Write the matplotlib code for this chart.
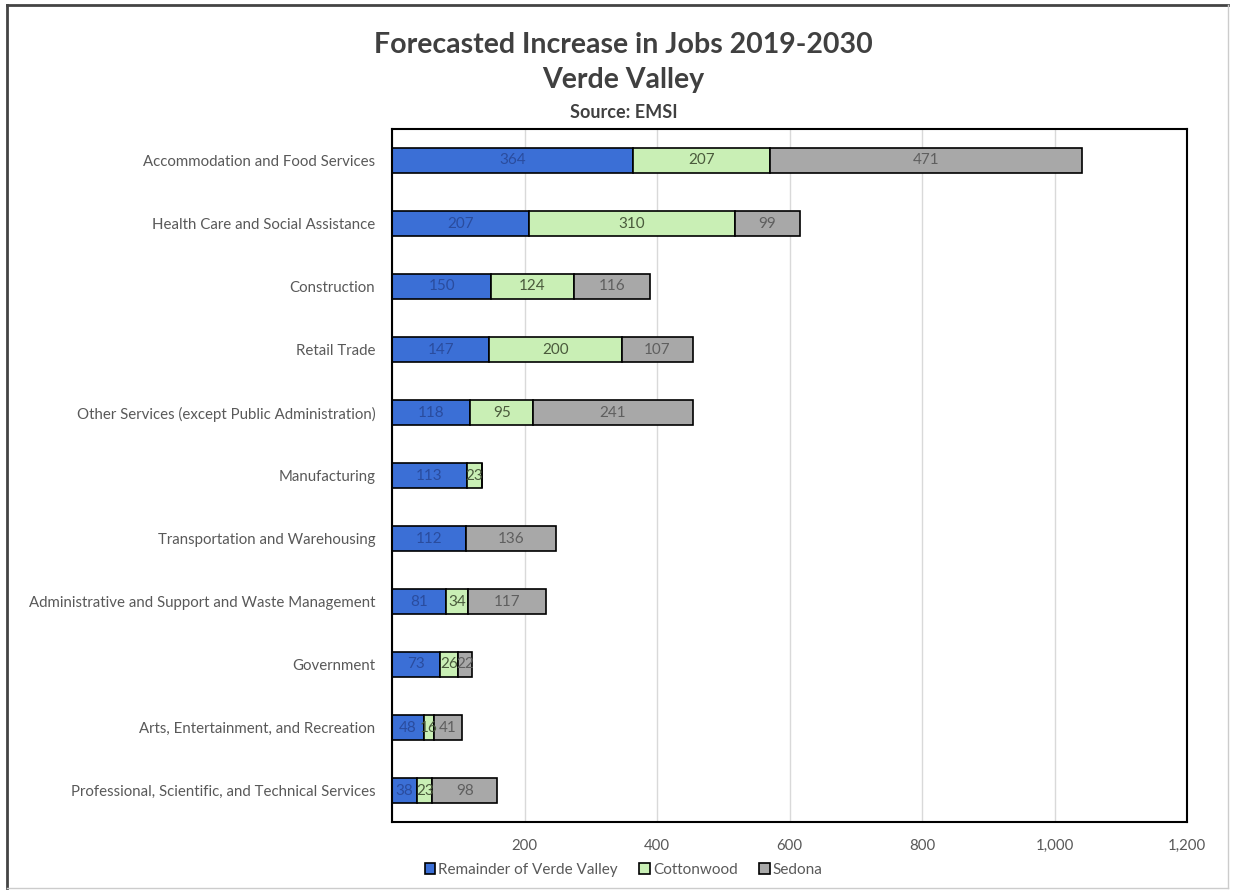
import matplotlib.pyplot as plt
from matplotlib.lines import Line2D

# Forecasted job increase by industry, 2019-2030
industries = [
    'Accommodation and Food Services',
    'Health Care and Social Assistance',
    'Construction',
    'Retail Trade',
    'Other Services (except Public Administration)',
    'Manufacturing',
    'Transportation and Warehousing',
    'Administrative and Support and Waste Management',
    'Government',
    'Arts, Entertainment, and Recreation',
    'Professional, Scientific, and Technical Services',
]
remainder = [364, 207, 150, 147, 118, 113, 112, 81, 73, 48, 38]
cottonwood = [207, 310, 124, 200, 95, 23, 0, 34, 26, 16, 23]
sedona = [471, 99, 116, 107, 241, 0, 136, 117, 22, 41, 98]

series_names = ['Remainder of Verde Valley', 'Cottonwood', 'Sedona']
colors = ['#3b6fd6', '#c9efb5', '#a8a8a8']
label_colors = ['#2a4c9e', '#4a5a3c', '#5f5f5f']

plt.rcParams['font.family'] = ['Lato', 'DejaVu Sans']

fig = plt.figure(figsize=(12.35, 8.96), dpi=100)
ax = fig.add_axes([392 / 1235, 1 - 822 / 896, (1187 - 392) / 1235, (822 - 129) / 896])

y = list(range(len(industries)))
left = [0] * len(industries)
for vals, name, col, lcol in zip([remainder, cottonwood, sedona], series_names, colors, label_colors):
    bars = ax.barh(y, vals, left=left, height=0.4, color=col, edgecolor='black',
                   linewidth=1.2, label=name)
    ax.bar_label(bars, labels=[str(v) if v > 0 else '' for v in vals],
                 label_type='center', color=lcol, fontsize=11)
    left = [a + b for a, b in zip(left, vals)]

ax.set_xlim(0, 1200)
ax.set_ylim(len(industries) - 0.5, -0.5)
ax.set_yticks(y)
ax.set_yticklabels(industries, fontsize=10.8, color='#595959')
ax.set_xticks([0, 200, 400, 600, 800, 1000, 1200])
ax.set_xticklabels(['', '200', '400', '600', '800', '1,000', '1,200'], fontsize=10.8, color='#595959')
ax.tick_params(length=0, pad=12)
ax.tick_params(axis='y', pad=12)
ax.grid(axis='x', color='#d9d9d9', linewidth=1)
ax.set_axisbelow(True)
for s in ax.spines.values():
    s.set_color('black')
    s.set_linewidth(1.5)

fig.text(0.505, 1 - 45 / 896, 'Forecasted Increase in Jobs 2019-2030', ha='center', va='center',
         fontsize=20.5, fontweight='bold', color='#404040')
fig.text(0.505, 1 - 80 / 896, 'Verde Valley', ha='center', va='center',
         fontsize=20.5, fontweight='bold', color='#404040')
fig.text(0.505, 1 - 112 / 896, 'Source: EMSI', ha='center', va='center',
         fontsize=13, fontweight='bold', color='#404040')

handles = [plt.Rectangle((0, 0), 1, 1, facecolor=c, edgecolor='black', linewidth=1.2) for c in colors]
fig.legend(handles, series_names, loc='center', bbox_to_anchor=(0.505, 1 - 870 / 896), ncol=3,
           frameon=False, fontsize=11, labelcolor='#595959', handlelength=0.7, handleheight=0.7,
           handletextpad=0.2, columnspacing=1.4)

# outer chart border
fig.add_artist(Line2D([7 / 1235, 1228 / 1235], [1 - 5 / 896] * 2, color='#444444', linewidth=2))
fig.add_artist(Line2D([7 / 1235] * 2, [1 - 5 / 896, 1 - 888 / 896], color='#444444', linewidth=2))
fig.add_artist(Line2D([1228 / 1235] * 2, [1 - 5 / 896, 1 - 888 / 896], color='#cccccc', linewidth=1))
fig.add_artist(Line2D([7 / 1235, 1228 / 1235], [1 - 888 / 896] * 2, color='#cccccc', linewidth=1))

fig.savefig('out.png', dpi=100)
